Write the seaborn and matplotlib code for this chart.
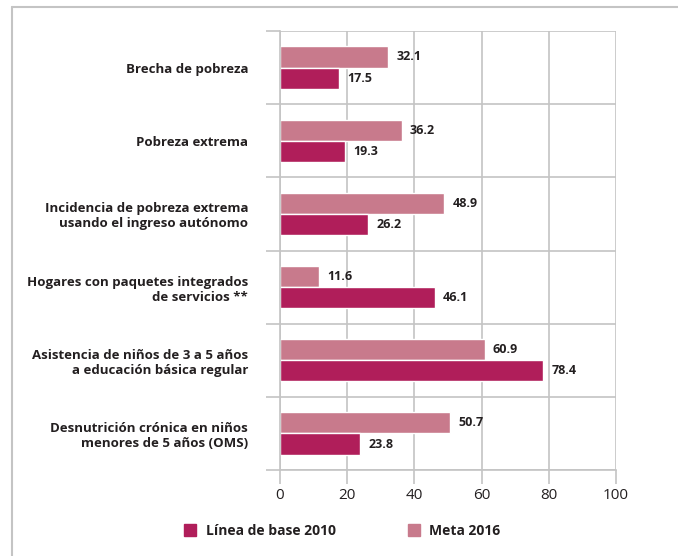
import numpy as np
import pandas as pd
import matplotlib.pyplot as plt
import seaborn as sns
from matplotlib.patches import Patch
from matplotlib.lines import Line2D

# ------------------------------------------------------------
# Datos
# ------------------------------------------------------------
categorias = [
    "Brecha de pobreza",
    "Pobreza extrema",
    "Incidencia de pobreza extrema\nusando el ingreso autónomo",
    "Hogares con paquetes integrados\nde servicios **",
    "Asistencia de niños de 3 a 5 años\na educación básica regular",
    "Desnutrición crónica en niños\nmenores de 5 años (OMS)",
]
linea_base_2010 = [17.5, 19.3, 26.2, 46.1, 78.4, 23.8]
meta_2016 = [32.1, 36.2, 48.9, 11.6, 60.9, 50.7]
ticks_x = [0, 20, 40, 60, 80, 100]

serie_base = "Línea de base 2010"
serie_meta = "Meta 2016"
color_base = "#B01E5A"
color_meta = "#C87A8C"
gris = "#C4C4C4"
texto = "#231F20"

df = pd.DataFrame({
    "categoria": categorias * 2,
    "valor": meta_2016 + linea_base_2010,
    "serie": [serie_meta] * len(categorias) + [serie_base] * len(categorias),
})

# ------------------------------------------------------------
# Estilo
# ------------------------------------------------------------
sns.set_theme(style="white")
plt.rcParams["font.family"] = ["Open Sans", "DejaVu Sans"]
plt.rcParams["text.color"] = texto

fig = plt.figure(figsize=(6.78, 5.56), dpi=100)
ax = fig.add_axes([280 / 678, 1 - 470 / 556, 336 / 678, 439 / 556])

sns.barplot(
    data=df, y="categoria", x="valor", hue="serie",
    hue_order=[serie_meta, serie_base],
    palette=[color_meta, color_base],
    width=0.58, orient="h", legend=False, ax=ax,
    saturation=1,
)

for cont in ax.containers:
    ax.bar_label(cont, fmt="%.1f", padding=6, fontsize=9,
                 fontweight="bold", color=texto)

ax.set_xlim(0, 100)
ax.set_ylim(5.5, -0.5)
ax.set_xticks(ticks_x)
ax.set_xlabel("")
ax.set_ylabel("")

# rejilla y marcas
ax.set_yticks(np.arange(-0.5, 6, 1), minor=True)
ax.grid(axis="x", which="major", color=gris, lw=1.2)
ax.grid(axis="y", which="minor", color=gris, lw=1.2)
ax.set_axisbelow(True)
ax.tick_params(axis="x", which="major", length=10, width=1.2, color=gris,
               direction="out", labelsize=11, labelcolor=texto, pad=3,
               bottom=True)
ax.tick_params(axis="y", which="minor", length=10, width=1.2, color=gris,
               direction="out", left=True)
ax.tick_params(axis="y", which="major", length=0, pad=23)
for lab in ax.get_yticklabels():
    lab.set_fontweight("bold")
    lab.set_fontsize(9.5)
    lab.set_color(texto)
    lab.set_linespacing(1.2)

for lado in ["top", "right"]:
    ax.spines[lado].set_visible(False)
for lado in ["left", "bottom"]:
    ax.spines[lado].set_color(gris)
    ax.spines[lado].set_linewidth(1.2)

# leyenda
handles = [Patch(color=color_base), Patch(color=color_meta)]
fig.legend(handles, [serie_base, serie_meta], loc="center",
           bbox_to_anchor=(0.505, 1 - 531 / 556), ncol=2, frameon=False,
           handlelength=0.85, handleheight=0.95, handletextpad=0.7,
           columnspacing=5.2, prop={"weight": "bold", "size": 10})

# borde del recuadro (solo arriba e izquierda)
fig.add_artist(Line2D([12 / 678, 1], [1 - 7 / 556, 1 - 7 / 556],
                      color=gris, lw=1.5, transform=fig.transFigure))
fig.add_artist(Line2D([12 / 678, 12 / 678], [0, 1 - 7 / 556],
                      color=gris, lw=1.5, transform=fig.transFigure))

fig.savefig("out.png", dpi=100)
